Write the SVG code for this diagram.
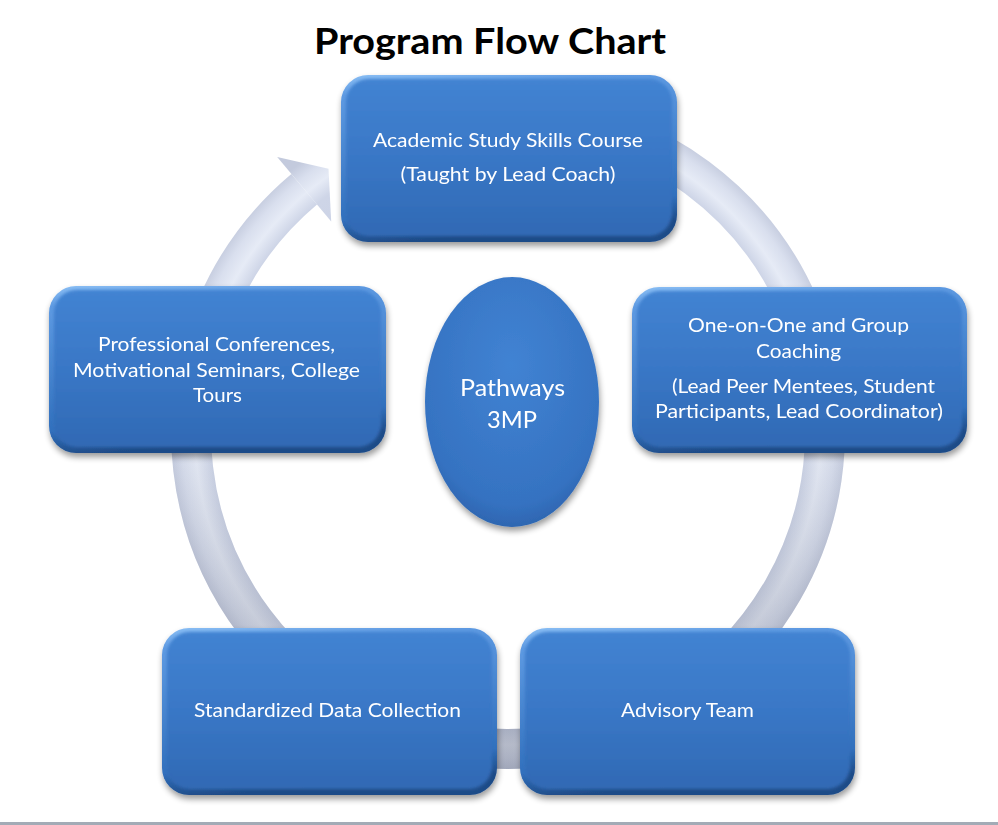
<svg xmlns="http://www.w3.org/2000/svg" width="998" height="825" viewBox="0 0 998 825">
  <style>
    .title { font-family: Lato, "Open Sans", "Liberation Sans", sans-serif; font-weight: 700; font-size: 37px; fill: #000; }
    .lbl { font-family: Lato, "Open Sans", "Liberation Sans", sans-serif; font-size: 20px; fill: #fff; text-anchor: middle; }
    .big { font-size: 24px; }
    .edge { fill: url(#bevel); }
    .face { fill: url(#face); filter: url(#soft); }
  </style>
  <defs>
    <linearGradient id="bevel" x1="0" y1="0" x2="0.15" y2="1">
      <stop offset="0" stop-color="#8cc0f5"/>
      <stop offset="0.12" stop-color="#5e9ae2"/>
      <stop offset="0.85" stop-color="#3270bd"/>
      <stop offset="1" stop-color="#1f4c88"/>
    </linearGradient>
    <linearGradient id="face" x1="0" y1="0" x2="0" y2="1">
      <stop offset="0" stop-color="#4283d2"/>
      <stop offset="0.5" stop-color="#3977c6"/>
      <stop offset="1" stop-color="#3069b4"/>
    </linearGradient>
    <radialGradient id="ovalFill" cx="0.5" cy="0.35" r="0.7">
      <stop offset="0" stop-color="#4183d3"/>
      <stop offset="0.8" stop-color="#3572c1"/>
      <stop offset="1" stop-color="#2a5fa8"/>
    </radialGradient>
    <radialGradient id="ringFill" gradientUnits="userSpaceOnUse" cx="508" cy="432" r="340">
      <stop offset="0.78" stop-color="#ccd3e6"/>
      <stop offset="0.875" stop-color="#ced5e7"/>
      <stop offset="0.92" stop-color="#e6ebf6"/>
      <stop offset="0.96" stop-color="#d9dfee"/>
      <stop offset="1" stop-color="#c3cadd"/>
    </radialGradient>
    <linearGradient id="ringShade" gradientUnits="userSpaceOnUse" x1="0" y1="420" x2="0" y2="770">
      <stop offset="0" stop-color="#70768a" stop-opacity="0"/>
      <stop offset="1" stop-color="#70768a" stop-opacity="0.45"/>
    </linearGradient>
    <filter id="drop" x="-10%" y="-10%" width="120%" height="130%">
      <feGaussianBlur in="SourceAlpha" stdDeviation="3"/>
      <feOffset dx="1" dy="4" result="b"/>
      <feComponentTransfer><feFuncA type="linear" slope="0.4"/></feComponentTransfer>
      <feMerge><feMergeNode/><feMergeNode in="SourceGraphic"/></feMerge>
    </filter>
    <filter id="soft" x="-5%" y="-5%" width="110%" height="110%">
      <feGaussianBlur stdDeviation="1.6"/>
    </filter>
  </defs>

  <rect width="998" height="825" fill="#fff"/>

  <text class="title" x="490" y="54" text-anchor="middle" textLength="352" lengthAdjust="spacingAndGlyphs">Program Flow Chart</text>

  <!-- circular cycle arrow running clockwise behind the boxes -->
  <g id="connectors">
    <path d="M399.6,134.1 A317,317 0 1 1 304.2,189.2" fill="none" stroke="url(#ringFill)" stroke-width="40"/>
    <path d="M399.6,134.1 A317,317 0 1 1 304.2,189.2" fill="none" stroke="url(#ringShade)" stroke-width="40"/>
    <polygon points="277.2,157 328.5,168.8 331.2,221.4" fill="url(#ringFill)"/>
  </g>

  <g id="node-academic" filter="url(#drop)">
    <rect class="edge" x="341" y="75" width="336" height="167" rx="27"/>
    <rect class="face" x="346" y="79" width="326" height="157" rx="23"/>
    <text class="lbl" x="508" y="147" textLength="270" lengthAdjust="spacingAndGlyphs">Academic Study Skills Course</text>
    <text class="lbl" x="508" y="181" textLength="215" lengthAdjust="spacingAndGlyphs">(Taught by Lead Coach)</text>
  </g>

  <g id="node-coaching" filter="url(#drop)">
    <rect class="edge" x="632" y="287" width="335" height="166" rx="27"/>
    <rect class="face" x="637" y="291" width="325" height="156" rx="23"/>
    <text class="lbl" x="798.5" y="332" textLength="221" lengthAdjust="spacingAndGlyphs">One-on-One  and Group</text>
    <text class="lbl" x="798.5" y="358" textLength="85" lengthAdjust="spacingAndGlyphs">Coaching</text>
    <text class="lbl" x="803.5" y="393" textLength="263" lengthAdjust="spacingAndGlyphs">(Lead Peer Mentees, Student</text>
    <text class="lbl" x="799" y="418" textLength="288" lengthAdjust="spacingAndGlyphs">Participants, Lead Coordinator)</text>
  </g>

  <g id="node-advisory" filter="url(#drop)">
    <rect class="edge" x="520" y="628" width="335" height="167" rx="27"/>
    <rect class="face" x="525" y="632" width="325" height="157" rx="23"/>
    <text class="lbl" x="687.5" y="717" textLength="133" lengthAdjust="spacingAndGlyphs">Advisory Team</text>
  </g>

  <g id="node-data" filter="url(#drop)">
    <rect class="edge" x="162" y="628" width="335" height="167" rx="27"/>
    <rect class="face" x="167" y="632" width="325" height="157" rx="23"/>
    <text class="lbl" x="327.5" y="717" textLength="267" lengthAdjust="spacingAndGlyphs">Standardized Data Collection</text>
  </g>

  <g id="node-conferences" filter="url(#drop)">
    <rect class="edge" x="49" y="286" width="337" height="167" rx="27"/>
    <rect class="face" x="54" y="290" width="327" height="157" rx="23"/>
    <text class="lbl" x="216.5" y="351" textLength="237" lengthAdjust="spacingAndGlyphs">Professional Conferences,</text>
    <text class="lbl" x="216.5" y="377" textLength="287" lengthAdjust="spacingAndGlyphs">Motivational Seminars, College</text>
    <text class="lbl" x="217.5" y="402" textLength="49" lengthAdjust="spacingAndGlyphs">Tours</text>
  </g>

  <g id="node-pathways" filter="url(#drop)">
    <ellipse cx="512" cy="402" rx="87" ry="125" fill="url(#ovalFill)"/>
    <text class="lbl big" x="512.5" y="396" textLength="105" lengthAdjust="spacingAndGlyphs">Pathways</text>
    <text class="lbl big" x="512" y="428" textLength="50" lengthAdjust="spacingAndGlyphs">3MP</text>
  </g>

  <rect x="0" y="822" width="998" height="3" fill="#a3abb6"/>
</svg>
